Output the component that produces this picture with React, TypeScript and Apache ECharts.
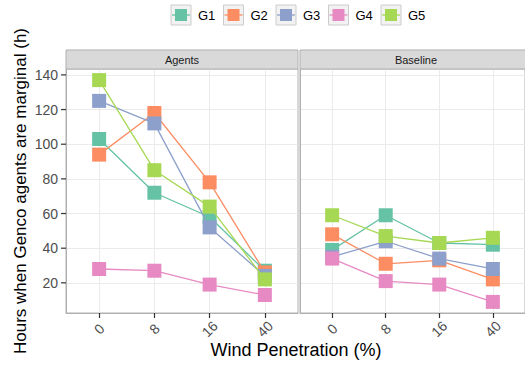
import React, { useEffect, useRef } from "react";
import * as echarts from "echarts";

const categories = ["0", "8", "16", "40"];
const groups = ["G1", "G2", "G3", "G4", "G5"];
const colors = ["#66C2A5", "#FC8D62", "#8DA0CB", "#E78AC3", "#A6D854"];
const panels = ["Agents", "Baseline"];
const yTicks = [20, 40, 60, 80, 100, 120, 140];

// Agents panel values
const agentsG1 = [103, 72, 58, 27];
const agentsG2 = [94, 118, 78, 26];
const agentsG3 = [125, 112, 52, 24];
const agentsG4 = [28, 27, 19, 13];
const agentsG5 = [137, 85, 64, 22];

// Baseline panel values
const baselineG1 = [39, 59, 43, 42];
const baselineG2 = [48, 31, 33, 22];
const baselineG3 = [35, 44, 34, 28];
const baselineG4 = [34, 21, 19, 9];
const baselineG5 = [59, 47, 43, 46];

const agents = [agentsG1, agentsG2, agentsG3, agentsG4, agentsG5];
const baseline = [baselineG1, baselineG2, baselineG3, baselineG4, baselineG5];

const Y_MIN = 2.6;
const Y_MAX = 143.4;

export default function App() {
  const ref = useRef<HTMLDivElement>(null);
  useEffect(() => {
    if (!ref.current) return;
    const chart = echarts.init(ref.current, undefined, { renderer: "svg" });
    const grids = [
      { left: 66, top: 69, width: 232, height: 244 },
      { left: 300, top: 69, width: 226, height: 244 },
    ];
    const xAxes = grids.map((_, i) => ({
      type: "value",
      gridIndex: i,
      min: -0.6,
      max: 3.6,
      position: "bottom",
      axisLine: { show: true, onZero: false, lineStyle: { color: "#b0b0b0", width: 1 } },
      axisTick: {
        show: true,
        length: 5,
        customValues: [0, 1, 2, 3],
        lineStyle: { color: "#333333", width: 1.2 },
      },
      axisLabel: {
        show: true,
        customValues: [0, 1, 2, 3],
        formatter: (v: number) => categories[Math.round(v)],
        rotate: 45,
        align: "center",
        verticalAlign: "middle",
        margin: 16,
        fontSize: 14,
        color: "#4d4d4d",
        fontFamily: "Liberation Sans, Arial, sans-serif",
      },
      splitLine: { show: true, lineStyle: { color: "#ebebeb", width: 1 } },
    }));
    const yAxes = grids.map((_, i) => ({
      type: "value",
      gridIndex: i,
      min: Y_MIN,
      max: Y_MAX,
      position: "left",
      name: i === 0 ? "Hours when Genco agents are marginal (h)" : "",
      nameLocation: "middle",
      nameGap: 37,
      nameTextStyle: {
        fontSize: 17,
        color: "#000000",
        fontFamily: "Liberation Sans, Arial, sans-serif",
      },
      axisLine: { show: true, onZero: false, lineStyle: { color: "#b0b0b0", width: 1 } },
      axisTick: {
        show: false,
        customValues: yTicks,
      },
      axisLabel: {
        show: i === 0,
        customValues: yTicks,
        margin: 8,
        fontSize: 14,
        color: "#4d4d4d",
        fontFamily: "Liberation Sans, Arial, sans-serif",
      },
      splitLine: { show: true, lineStyle: { color: "#ebebeb", width: 1 } },
    }));

    const series: any[] = [];
    [agents, baseline].forEach((panelData, p) => {
      panelData.forEach((vals, g) => {
        series.push({
          type: "line",
          name: groups[g],
          xAxisIndex: p,
          yAxisIndex: p,
          data: vals.map((v, k) => [k, v]),
          symbol: "rect",
          symbolSize: 14,
          itemStyle: { color: colors[g] },
          lineStyle: { color: colors[g], width: 1.3 },
          z: 2 + g,
        });
      });
    });

    const graphics: any[] = [];
    // strips
    grids.forEach((gr, i) => {
      graphics.push({
        type: "rect",
        shape: { x: gr.left, y: 50, width: gr.width, height: 19 },
        style: { fill: "#d9d9d9", stroke: "#b0b0b0", lineWidth: 1 },
        z: 10,
      });
      graphics.push({
        type: "text",
        x: gr.left + 116,
        y: 59.5,
        style: {
          text: panels[i],
          fill: "#1a1a1a",
          fontSize: 11,
          fontFamily: "Liberation Sans, Arial, sans-serif",
          textAlign: "center",
          textVerticalAlign: "middle",
        },
        z: 11,
      });
    });
    // legend
    groups.forEach((g, i) => {
      const x0 = 171 + i * 52.5;
      graphics.push({
        type: "rect",
        shape: { x: x0, y: 5, width: 20, height: 20 },
        style: { fill: "#f2f2f2", stroke: "#cccccc", lineWidth: 1 },
        z: 10,
      });
      graphics.push({
        type: "line",
        shape: { x1: x0 + 1, y1: 15, x2: x0 + 19, y2: 15 },
        style: { stroke: colors[i], lineWidth: 1.3 },
        z: 11,
      });
      graphics.push({
        type: "rect",
        shape: { x: x0 + 4, y: 9, width: 12, height: 12 },
        style: { fill: colors[i] },
        z: 12,
      });
      graphics.push({
        type: "text",
        x: x0 + 27,
        y: 15,
        style: {
          text: g,
          fill: "#000000",
          fontSize: 13,
          fontFamily: "Liberation Sans, Arial, sans-serif",
          textVerticalAlign: "middle",
        },
        z: 12,
      });
    });
    graphics.push({
      type: "text",
      x: 296,
      y: 350,
      style: {
        text: "Wind Penetration (%)",
        fill: "#000000",
        fontSize: 18,
        fontFamily: "Liberation Sans, Arial, sans-serif",
        textAlign: "center",
        textVerticalAlign: "middle",
      },
      z: 12,
    });

    chart.setOption({
      animation: false,
      backgroundColor: "#ffffff",
      grid: grids.map((g) => ({
        ...g,
        show: true,
        backgroundColor: "#ffffff",
        borderColor: "#b0b0b0",
        borderWidth: 1,
      })),
      xAxis: xAxes,
      yAxis: yAxes,
      series,
      graphic: graphics,
    });

    // y-axis tick marks placed through the axis scale
    const tickGraphics = yTicks.map((v) => {
      const py = chart.convertToPixel({ yAxisIndex: 0 }, v) as number;
      return {
        type: "line",
        shape: { x1: grids[0].left - 5, y1: py, x2: grids[0].left, y2: py },
        style: { stroke: "#333333", lineWidth: 1.2 },
        z: 12,
      };
    });
    chart.setOption({ graphic: [...graphics, ...tickGraphics] });

    return () => chart.dispose();
  }, []);
  return (
    <div
      ref={ref}
      style={{ position: "fixed", left: 0, top: 0, width: 525, height: 365 }}
    />
  );
}
